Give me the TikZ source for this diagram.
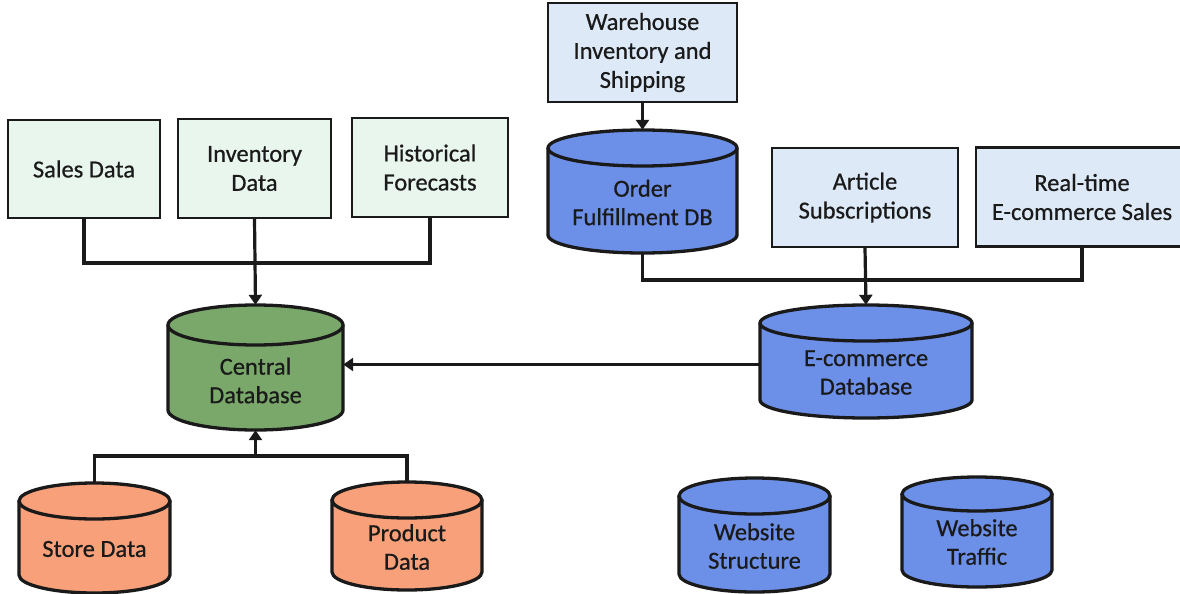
\documentclass[tikz,border=0pt]{standalone}
\usepackage{fontspec}
\setmainfont{Carlito}[FakeBold=0.6]
\usetikzlibrary{arrows.meta,calc}
\definecolor{boxgreen}{HTML}{E8F6EE}
\definecolor{boxblue}{HTML}{DDE9F7}
\definecolor{dbblue}{HTML}{6C8FE8}
\definecolor{dbgreen}{HTML}{7AA86A}
\definecolor{dborange}{HTML}{F7A07A}
\definecolor{ink}{HTML}{1A1A1A}
\tikzset{
  srcbox/.style={draw=ink, line width=2.2pt, minimum width=#1, inner sep=0pt, align=center,
     font=\fontsize{24.5}{29}\selectfont, text=ink},
  dbline/.style={draw=ink, line width=3.3pt},
  dbframe/.style={inner sep=0pt, draw=none},
  dbtext/.style={align=center, inner sep=0pt, font=\fontsize{24.5}{28.5}\selectfont, text=ink},
  conn/.style={draw=ink, line width=3.2pt},
  arr/.style={conn, -{Triangle[length=10pt,width=13pt]}},
}
% name, x1, y1, x2, y2, ry, fill, text
\newcommand\mydb[8]{%
  \pgfmathsetmacro\dbcx{(#2+#4)/2}%
  \pgfmathsetmacro\dbrx{(#4-#2)/2}%
  \pgfmathsetmacro\dbcy{(#3+#5)/2}%
  \pgfmathsetmacro\dbty{(#3+2*#6+#5)/2-7}%
  \filldraw[dbline, fill=#7] (#2,#3+#6) -- (#2,#5-#6)
     arc[start angle=180, end angle=0, x radius=\dbrx, y radius=#6] -- (#4,#3+#6);
  \filldraw[dbline, fill=#7] (\dbcx,#3+#6) ellipse[x radius=\dbrx, y radius=#6];
  \node[dbframe, minimum width={(#4-#2)*1pt}, minimum height={(#5-#3)*1pt}] (#1) at (\dbcx,\dbcy) {};
  \node[dbtext] (#1-text) at (\dbcx,\dbty) {#8};
}
\begin{document}
\begin{tikzpicture}[x=1pt, y=-1pt]
\useasboundingbox (0,0) rectangle (1180,594);
\begin{scope}
\clip (0,0) rectangle (1180,594);

% left source boxes
\node[srcbox=152pt, minimum height=98pt, fill=boxgreen] (sales) at (84,169) {Sales Data};
\node[srcbox=153pt, minimum height=99pt, fill=boxgreen] (inv) at (254.5,168.5) {Inventory\\Data};
\node[srcbox=156pt, minimum height=99pt, fill=boxgreen] (hist) at (430,167.5) {Historical\\Forecasts};

% right source boxes
\node[srcbox=189pt, minimum height=99pt, fill=boxblue] (ware) at (642.5,52.5) {Warehouse\\Inventory and\\Shipping};
\node[srcbox=186pt, minimum height=99pt, fill=boxblue] (art) at (865,197.5) {Article\\Subscriptions};
\node[srcbox=212pt, minimum height=99pt, fill=boxblue] (rt) at (1082,197) {Real-time\\E-commerce Sales};

% databases
\mydb{cdb}{168}{305}{343}{430}{20}{dbgreen}{Central\\Database}
\mydb{store}{19}{483}{170}{593}{18}{dborange}{Store Data}
\mydb{prod}{332}{482}{482}{590}{18}{dborange}{Product\\Data}
\mydb{odb}{548}{130}{737}{253}{18}{dbblue}{Order\\Fulfillment DB}
\mydb{ecom}{760}{305}{972}{418}{18}{dbblue}{E-commerce\\Database}
\mydb{wstr}{679}{478}{830}{592}{18}{dbblue}{Website\\Structure}
\mydb{wtr}{902}{477}{1052}{587}{17}{dbblue}{Website\\Traffic}

% connectors: left top group
\coordinate (jl) at (255,263);
\draw[conn] (sales.south) |- (jl);
\draw[conn] (hist.south) |- (jl);
\draw[arr] (inv.south) -- (cdb.north);

% bottom group
\coordinate (jb) at (255.5,456);
\draw[conn] (store.north) |- (jb);
\draw[conn] (prod.north) |- (jb);
\draw[arr] (jb) -- (cdb.south);

% right group
\draw[arr] (ware.south) -- (odb.north);
\coordinate (jr) at (866,280);
\draw[conn] (odb.south) |- (jr);
\draw[conn] (rt.south) |- (jr);
\draw[arr] (art.south) -- (ecom.north);

% ecommerce to central
\coordinate (ea) at ($(ecom.west)+(0,3)$);
\draw[arr] (ea) -- (ea -| cdb.east);
\end{scope}
\end{tikzpicture}
\end{document}
